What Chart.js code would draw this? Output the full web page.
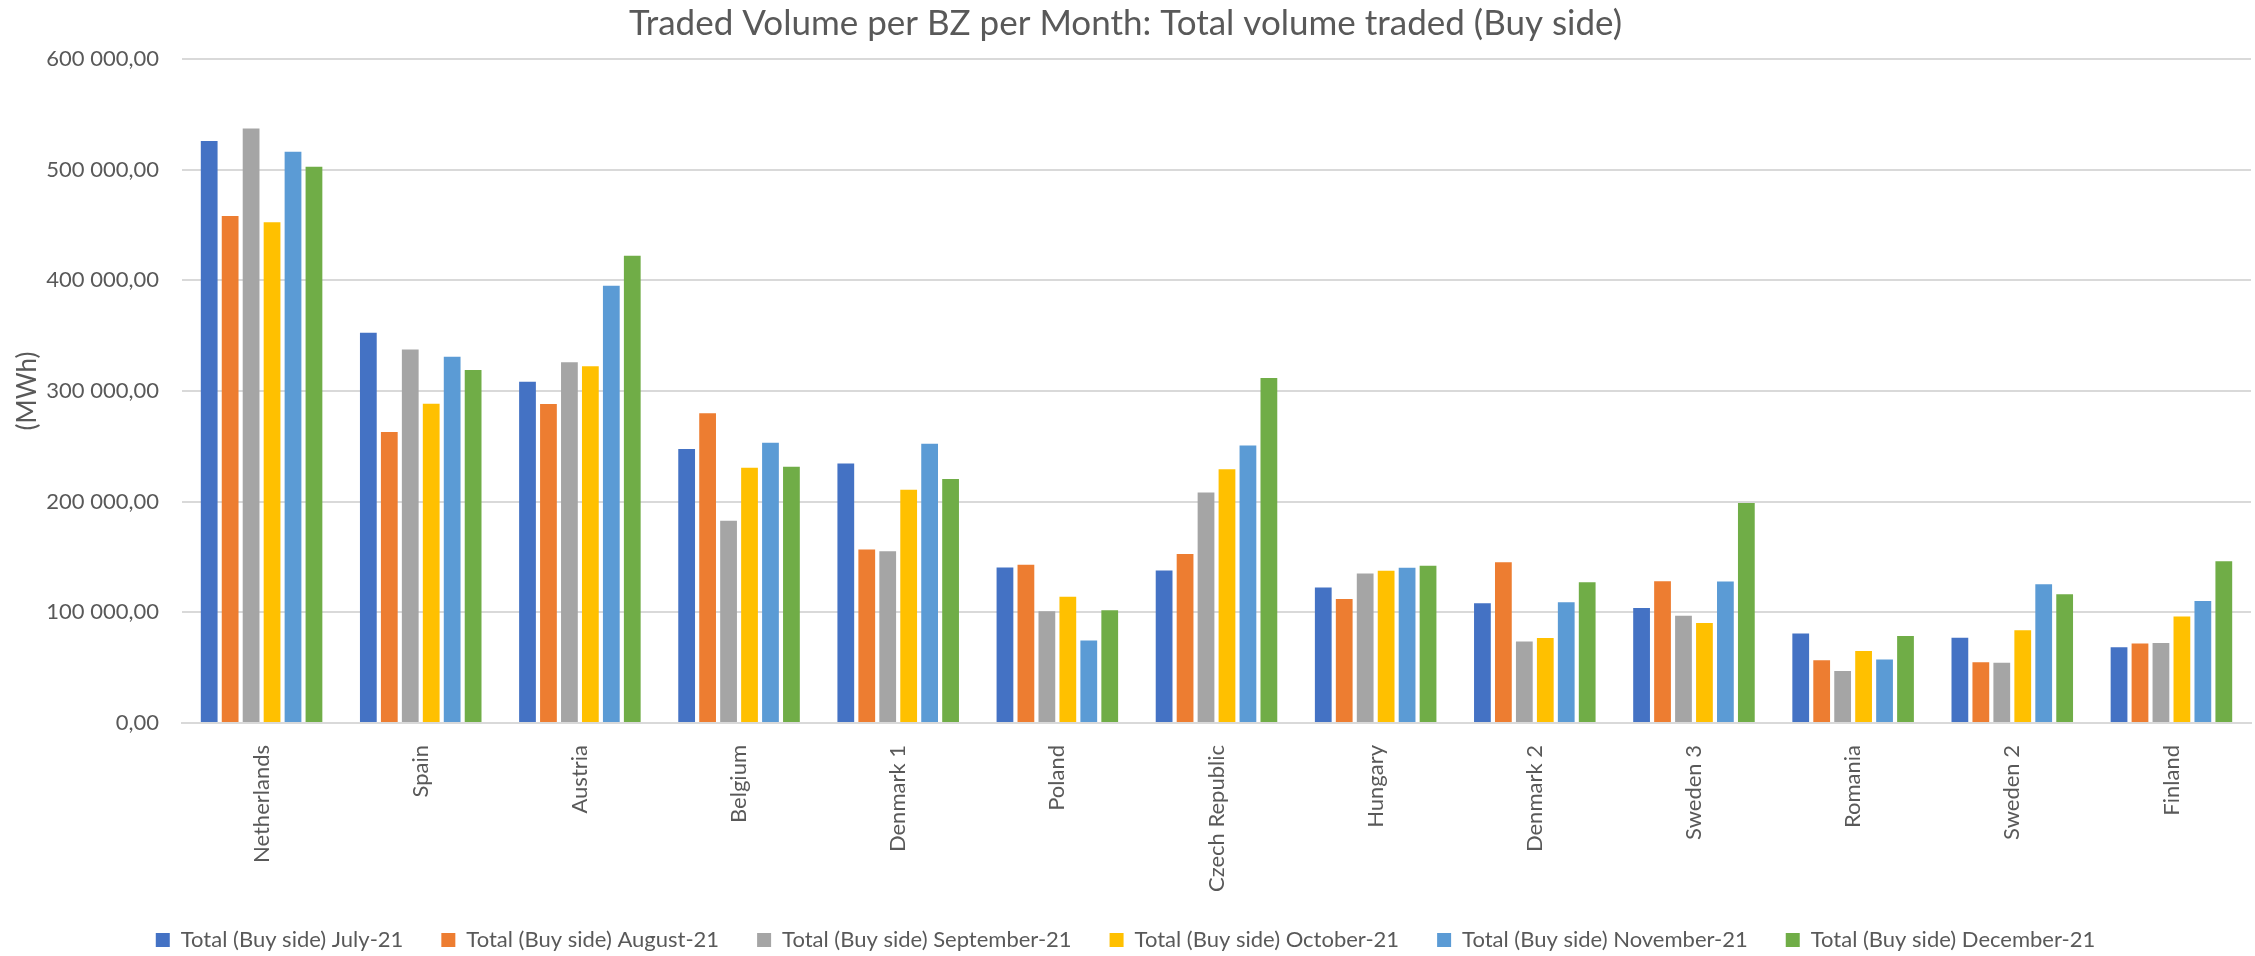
<!DOCTYPE html>
<html>
<head>
<meta charset="utf-8">
<script src="https://cdn.jsdelivr.net/npm/chart.js@4"></script>
<style>
  html, body { margin: 0; padding: 0; background: #ffffff; }
  .container { width: 2255px; height: 956px; position: relative; }
</style>
</head>
<body>
<div class="container">
  <canvas id="volumeChart"></canvas>
</div>
<script>
// Bidding zones (x axis categories)
const zones = [
  "Netherlands", "Spain", "Austria", "Belgium", "Denmark 1", "Poland",
  "Czech Republic", "Hungary", "Denmark 2", "Sweden 3", "Romania",
  "Sweden 2", "Finland"
];

// Monthly traded volume, MWh
const july21 = [525900, 352700, 308400, 247500, 234500, 140500, 137800, 122400, 108200, 104000, 80800, 77000, 68500];
const august21 = [458100, 262900, 288200, 279800, 156800, 142900, 152800, 112100, 145300, 128100, 56700, 54800, 71800];
const september21 = [537300, 337400, 325900, 182700, 155300, 101000, 208300, 135100, 73600, 96800, 47000, 54400, 72400];
const october21 = [452400, 288500, 322300, 230600, 210700, 114000, 229400, 137500, 76900, 90400, 65100, 83700, 96200];
const november21 = [516300, 331000, 395200, 253200, 252300, 74500, 250800, 140200, 109100, 127800, 57300, 125400, 110300];
const december21 = [502700, 319000, 422300, 231500, 220400, 101900, 311700, 142000, 127200, 198700, 78700, 116400, 146200];

const seriesLabels = [
  "Total (Buy side) July-21",
  "Total (Buy side) August-21",
  "Total (Buy side) September-21",
  "Total (Buy side) October-21",
  "Total (Buy side) November-21",
  "Total (Buy side) December-21"
];

// y axis range
const yMin = 0;
const yMax = 600000;
const yStep = 100000;

const colors = ["#4472C4", "#ED7D31", "#A5A5A5", "#FFC000", "#5B9BD5", "#70AD47"];
const textColor = "#595959";
const gridColor = "#D9D9D9";
const fontFamily = "Lato, 'Liberation Sans', sans-serif";

// "600 000,00" style
function formatTick(value) {
  const whole = Math.round(value).toString().replace(/\B(?=(\d{3})+(?!\d))/g, " ");
  return whole + ",00";
}

const seriesData = [july21, august21, september21, october21, november21, december21];

const datasets = seriesData.map((values, i) => ({
  label: seriesLabels[i],
  data: values,
  backgroundColor: colors[i],
  borderWidth: 0,
  barPercentage: 0.8,
  categoryPercentage: 0.79,
}));

const ctx = document.getElementById("volumeChart").getContext("2d");
new Chart(ctx, {
  type: "bar",
  data: {
    labels: zones,
    datasets: datasets,
  },
  options: {
    responsive: true,
    maintainAspectRatio: false,
    animation: false,
    layout: {
      padding: { top: 0, right: 4, bottom: -5, left: 0 },
    },
    scales: {
      x: {
        grid: { display: false },
        border: { color: gridColor, width: 2 },
        ticks: {
          color: textColor,
          font: { family: fontFamily, size: 22 },
          minRotation: 90,
          maxRotation: 90,
          autoSkip: false,
          padding: 14,
        },
        afterFit: (scale) => {
          scale.height = 168;
        },
      },
      y: {
        min: yMin,
        max: yMax,
        grid: { color: gridColor, lineWidth: 2, drawTicks: false },
        border: { display: false },
        ticks: {
          stepSize: yStep,
          color: textColor,
          font: { family: fontFamily, size: 22 },
          padding: 23,
          callback: (value) => formatTick(value),
        },
        title: {
          display: true,
          text: "(MWh)",
          color: textColor,
          font: { family: fontFamily, size: 26 },
          padding: { top: 12, bottom: 0 },
        },
        afterFit: (scale) => {
          scale.width = 182;
        },
      },
    },
    plugins: {
      title: {
        display: true,
        text: "Traded Volume per BZ per Month: Total volume traded (Buy side)",
        color: textColor,
        font: { family: fontFamily, size: 35, weight: "normal" },
        padding: { top: 3, bottom: 14 },
      },
      legend: {
        position: "bottom",
        labels: {
          color: textColor,
          font: { family: fontFamily, size: 22 },
          boxWidth: 14,
          boxHeight: 14,
          padding: 38,
        },
      },
      tooltip: { enabled: false },
    },
  },
});
</script>
</body>
</html>
